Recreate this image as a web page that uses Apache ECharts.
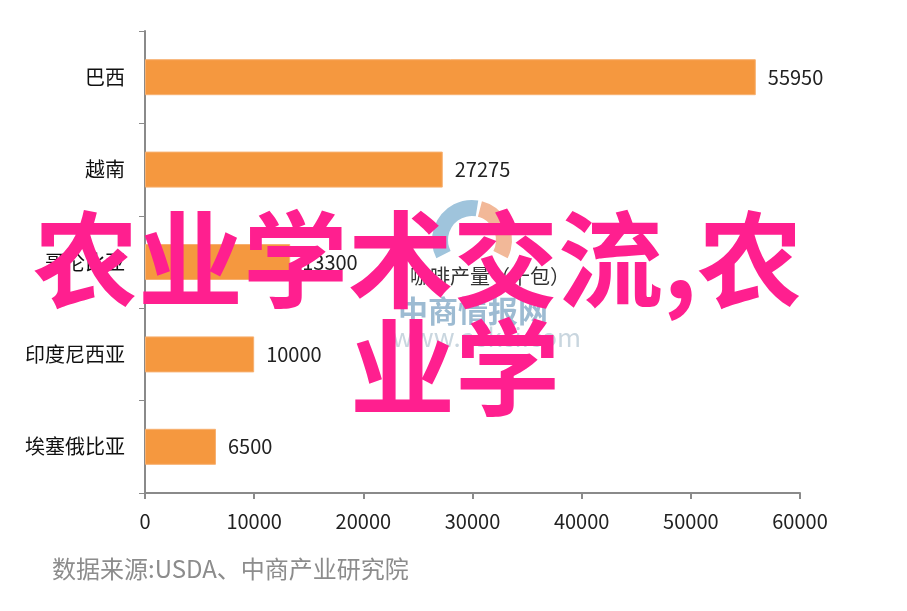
<!DOCTYPE html>
<html>
<head>
<meta charset="utf-8">
<script src="https://cdn.jsdelivr.net/npm/echarts@6/dist/echarts.min.js"></script>
<style>
	html, body {margin: 0; padding: 0; background: #fff;}
	#main {width: 907px; height: 611px;}
</style>
</head>
<body>
<div id="main"></div>
<script>
// 咖啡产量（千包）
var countries = ['巴西', '越南', '哥伦比亚', '印度尼西亚', '埃塞俄比亚'];
var output = [55950, 27275, 13300, 10000, 6500];
var xTicks = [0, 10000, 20000, 30000, 40000, 50000, 60000];

var font = '"Noto Sans CJK SC", "Noto Sans", sans-serif';

var myChart = echarts.init(document.getElementById('main'));
var option = {
	backgroundColor: '#fff',
	animation: false,
	grid: {
		left: 145,
		right: 107,
		top: 31,
		bottom: 118,
		containLabel: false
	},
	xAxis: {
		type: 'value',
		min: xTicks[0],
		max: xTicks[xTicks.length - 1],
		interval: xTicks[1] - xTicks[0],
		axisLine: {show: true, lineStyle: {color: '#8a8a8a', width: 2}},
		axisTick: {show: true, length: 6, lineStyle: {color: '#8a8a8a', width: 2}},
		splitLine: {show: false},
		axisLabel: {
			margin: 18,
			color: '#222',
			fontSize: 20,
			fontFamily: font,
			formatter: function (v) { return String(v); }
		}
	},
	yAxis: {
		type: 'category',
		inverse: true,
		data: countries,
		axisLine: {show: true, lineStyle: {color: '#8a8a8a', width: 2}},
		axisTick: {show: true, length: 6, lineStyle: {color: '#8a8a8a', width: 1}},
		axisLabel: {
			margin: 20,
			color: '#111',
			fontSize: 20,
			fontFamily: font
		}
	},
	series: [{
		name: '咖啡产量（千包）',
		type: 'bar',
		data: output,
		barWidth: 36,
		itemStyle: {color: '#f5983f', borderColor: '#f7b070', borderWidth: 1},
		label: {
			show: true,
			position: 'right',
			distance: 12,
			color: '#222',
			fontSize: 20,
			fontFamily: font
		}
	}],
	graphic: [
		// 水印
		{
			type: 'sector',
			shape: {cx: 472, cy: 240, r: 40, r0: 24, startAngle: Math.PI * 0.85, endAngle: Math.PI * 1.55},
			style: {fill: '#9fc4dc'},
			z: 1
		},
		{
			type: 'sector',
			shape: {cx: 472, cy: 240, r: 40, r0: 24, startAngle: Math.PI * 1.58, endAngle: Math.PI * 2.15},
			style: {fill: '#f2b898'},
			z: 1
		},
		{
			type: 'text',
			left: 410, top: 266,
			style: {text: '咖啡产量（千包）', fill: '#333', font: '20px ' + font},
			z: 2
		},
		{
			type: 'text',
			left: 398, top: 296,
			style: {text: '中商情报网', fill: '#9dbbd2', font: 'bold 30px ' + font},
			z: 2
		},
		{
			type: 'text',
			left: 392, top: 324,
			style: {text: 'www.askci.com', fill: '#c9d6df', font: '26px ' + font},
			z: 2
		},
		// 来源
		{
			type: 'text',
			left: 52, top: 557,
			style: {text: '数据来源:USDA、中商产业研究院', fill: '#8c8c8c', font: '24px ' + font},
			z: 3
		},
		// 粉色大字
		{
			type: 'text',
			left: 33, top: 207,
			style: {text: '农业学术交流,农', fill: '#ff1f8f', font: 'bold 105px ' + font},
			z: 10
		},
		{
			type: 'text',
			left: 350, top: 315,
			style: {text: '业学', fill: '#ff1f8f', font: 'bold 105px ' + font},
			z: 10
		}
	]
};
myChart.setOption(option);
window.onresize = function(){
	myChart.resize();
}
</script>
</body>
</html>
